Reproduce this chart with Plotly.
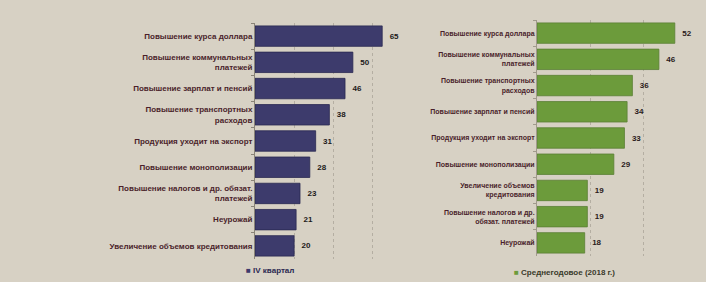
import plotly.graph_objects as go

left_categories = [
    "Повышение курса доллара",
    "Повышение коммунальных<br>платежей",
    "Повышение зарплат и пенсий",
    "Повышение транспортных<br>расходов",
    "Продукция уходит на экспорт",
    "Повышение монополизации",
    "Повышение налогов и др. обязат.<br>платежей",
    "Неурожай",
    "Увеличение объемов кредитования",
]
left_values = [65, 50, 46, 38, 31, 28, 23, 21, 20]
left_name = "IV квартал"

right_categories = [
    "Повышение курса доллара",
    "Повышение коммунальных<br>платежей",
    "Повышение транспортных<br>расходов",
    "Повышение зарплат и пенсий",
    "Продукция уходит на экспорт",
    "Повышение монополизации",
    "Увеличение объемов<br>кредитования",
    "Повышение налогов и др.<br>обязат. платежей",
    "Неурожай",
]
right_values = [52, 46, 36, 34, 33, 29, 19, 19, 18]
right_name = "Среднегодовое (2018 г.)"

W, H = 706, 282
BG = "#d7d1c4"
LEFT_COLOR = "#3d3b6c"
RIGHT_COLOR = "#6c9b3b"
LABEL_COLOR = "#4a1f2b"

fig = go.Figure()
fig.add_trace(go.Bar(
    x=left_values, y=left_categories, orientation="h",
    marker=dict(color=LEFT_COLOR, line=dict(color="#2a2850", width=0.8)),
    text=left_values, texttemplate="  %{x}", textposition="outside",
    textfont=dict(family="Liberation Sans", size=8, color="#1c1a1a", weight="bold"),
    cliponaxis=False, xaxis="x", yaxis="y", showlegend=False,
))
fig.add_trace(go.Bar(
    x=right_values, y=right_categories, orientation="h",
    marker=dict(color=RIGHT_COLOR, line=dict(color="#5a7f35", width=0.8)),
    text=right_values, texttemplate="  %{x}", textposition="outside",
    textfont=dict(family="Liberation Sans", size=8, color="#2a1a1a", weight="bold"),
    cliponaxis=False, xaxis="x2", yaxis="y2", showlegend=False,
))

def fx(px):
    return px / W

def fy(py):
    return 1 - py / H

grid = dict(showgrid=True, gridcolor="#b4aea2", griddash="dot", gridwidth=1,
            zeroline=False, showticklabels=False, ticks="", showline=False)

fig.update_layout(
    width=W, height=H,
    margin=dict(l=0, r=0, t=0, b=0),
    paper_bgcolor=BG, plot_bgcolor=BG,
    bargap=0.22,
    font=dict(family="Liberation Sans", color=LABEL_COLOR),
    xaxis=dict(domain=[fx(255), fx(392)], range=[0, 70], dtick=20, anchor="y", **grid),
    yaxis=dict(domain=[fy(259), fy(23)], anchor="x", type="category",
               categoryorder="array", categoryarray=left_categories,
               autorange="reversed", automargin=False,
               showline=True, linecolor="#8a8478", linewidth=1,
               ticks="outside", ticklen=3, tickcolor="#8a8478", tickson="boundaries",
               tickfont=dict(family="Liberation Sans", size=8, color=LABEL_COLOR, weight="bold"),
               showgrid=False),
    xaxis2=dict(domain=[fx(537), fx(696)], range=[0, 60], dtick=20, anchor="y2", **grid),
    yaxis2=dict(domain=[fy(256), fy(20)], anchor="x2", type="category",
                categoryorder="array", categoryarray=right_categories,
                autorange="reversed", automargin=False,
                showline=True, linecolor="#a09a8c", linewidth=1,
                ticks="outside", ticklen=3, tickcolor="#a09a8c", tickson="boundaries",
                tickfont=dict(family="Liberation Sans", size=7, color=LABEL_COLOR, weight="bold"),
                showgrid=False),
    annotations=[
        dict(x=fx(244), y=fy(270), xref="paper", yref="paper", xanchor="left", yanchor="middle",
             showarrow=False,
             text=f"<span style='color:{LEFT_COLOR}'>■</span> <b>{left_name}</b>",
             font=dict(family="Liberation Sans", size=8, color="#2a2850")),
        dict(x=fx(512), y=fy(272), xref="paper", yref="paper", xanchor="left", yanchor="middle",
             showarrow=False,
             text=f"<span style='color:{RIGHT_COLOR}'>■</span> <b>{right_name}</b>",
             font=dict(family="Liberation Sans", size=8, color="#3a3a2a")),
    ],
)

fig.write_html("out.html",
               config={"displayModeBar": False},
               post_script="document.body.style.margin='0';document.body.style.background='" + BG + "';")
